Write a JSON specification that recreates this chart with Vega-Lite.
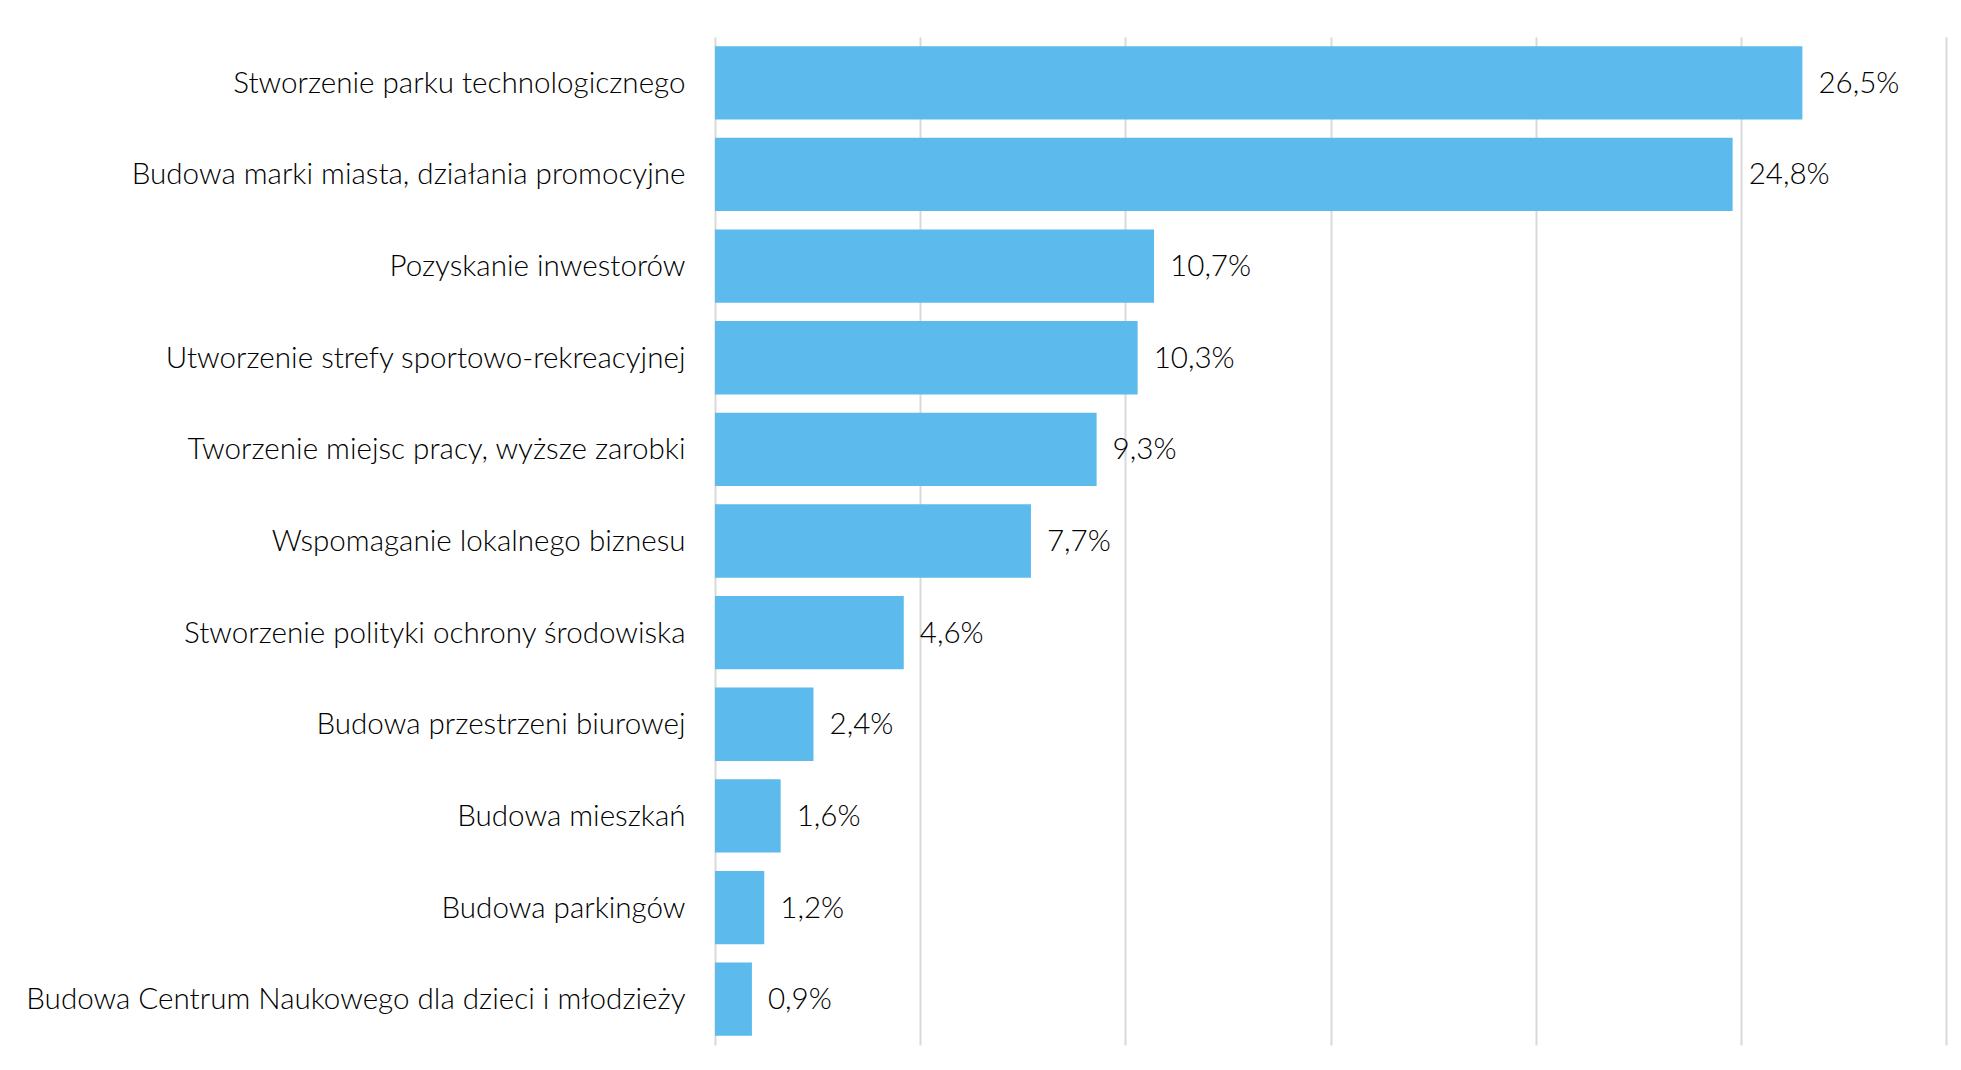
{
  "$schema": "https://vega.github.io/schema/vega-lite/v6.json",
  "autosize": "none",
  "width": 1231,
  "height": 1008,
  "padding": {"left": 715, "top": 37, "right": 15, "bottom": 25},
  "background": "#ffffff",
  "config": {
    "view": {"stroke": null},
    "locale": {"number": {"decimal": ",", "thousands": " ", "grouping": [3], "currency": ["", " zł"]}},
    "font": "Lato"
  },
  "data": {
    "values": [
      {"kategoria": "Stworzenie parku technologicznego", "udzial": 0.265},
      {"kategoria": "Budowa marki miasta, działania promocyjne", "udzial": 0.248},
      {"kategoria": "Pozyskanie inwestorów", "udzial": 0.107},
      {"kategoria": "Utworzenie strefy sportowo-rekreacyjnej", "udzial": 0.103},
      {"kategoria": "Tworzenie miejsc pracy, wyższe zarobki", "udzial": 0.093},
      {"kategoria": "Wspomaganie lokalnego biznesu", "udzial": 0.077},
      {"kategoria": "Stworzenie polityki ochrony środowiska", "udzial": 0.046},
      {"kategoria": "Budowa przestrzeni biurowej", "udzial": 0.024},
      {"kategoria": "Budowa mieszkań", "udzial": 0.016},
      {"kategoria": "Budowa parkingów", "udzial": 0.012},
      {"kategoria": "Budowa Centrum Naukowego dla dzieci i młodzieży", "udzial": 0.009}
    ]
  },
  "encoding": {
    "y": {
      "field": "kategoria",
      "type": "nominal",
      "sort": null,
      "title": null,
      "scale": {"paddingInner": 0.2, "paddingOuter": 0.1},
      "axis": {
        "domain": false,
        "ticks": false,
        "labelPadding": 30,
        "labelFontSize": 29.6,
        "labelFontWeight": 300,
        "labelColor": "#000000",
        "labelFont": "Lato",
        "labelLimit": 800,
        "labelOffset": 1
      }
    },
    "x": {
      "field": "udzial",
      "type": "quantitative",
      "title": null,
      "scale": {"domain": [0, 0.3], "nice": false},
      "axis": {
        "values": [0, 0.05, 0.1, 0.15, 0.2, 0.25, 0.3],
        "labels": false,
        "ticks": false,
        "domain": false,
        "grid": true,
        "gridColor": "#d9d9d9",
        "gridWidth": 2
      }
    }
  },
  "layer": [
    {"mark": {"type": "bar", "color": "#5cbbec"}},
    {
      "mark": {"type": "text", "align": "left", "baseline": "middle", "dx": 16, "dy": 1, "fontSize": 29.6, "fontWeight": 300, "color": "#000000", "font": "Lato"},
      "encoding": {"text": {"field": "udzial", "type": "quantitative", "format": ".1%"}}
    }
  ]
}
